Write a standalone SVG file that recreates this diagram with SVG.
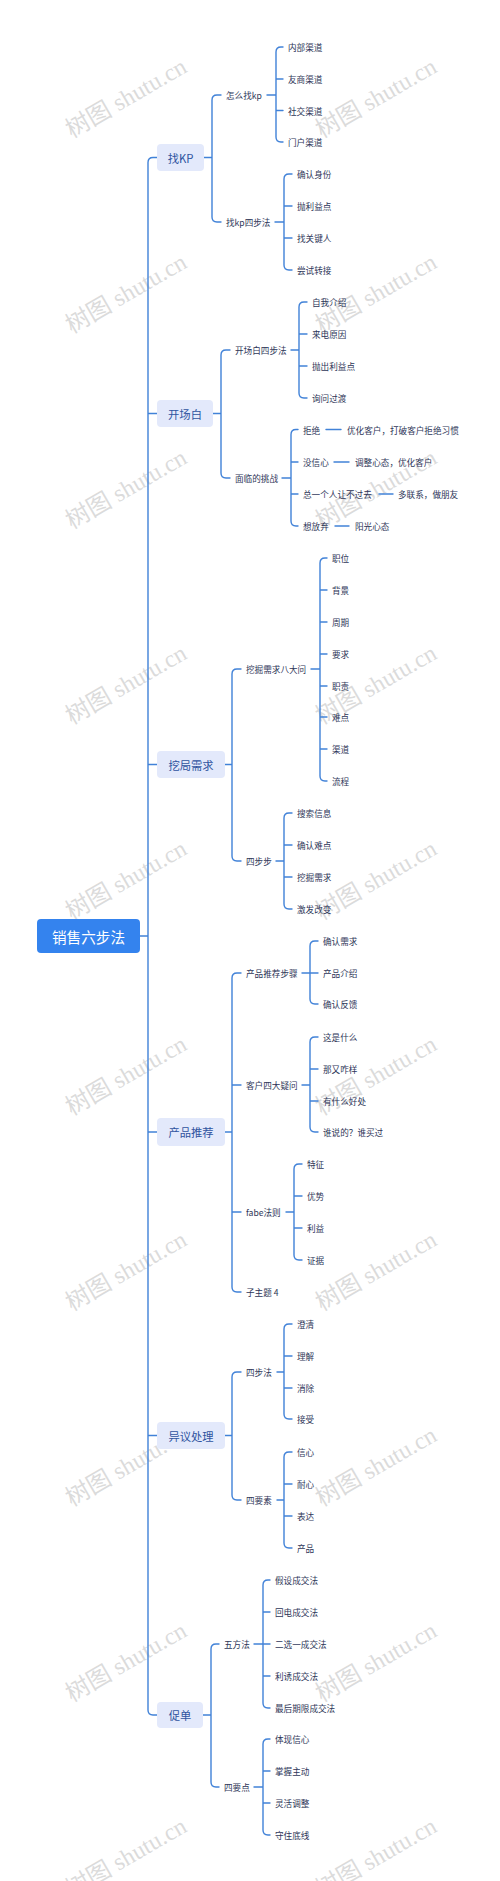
<svg xmlns="http://www.w3.org/2000/svg" width="500" height="1881" viewBox="0 0 500 1881">
<style>
.wm{font-family:"Liberation Serif","Noto Sans CJK SC",serif;font-size:24px;fill:#cfcfcf;fill-opacity:0.75;text-anchor:middle}
.ln{fill:none;stroke:#4182d8;stroke-width:1.4;stroke-linecap:round}
.t{font-family:"Noto Sans CJK SC","Noto Sans",sans-serif;font-size:8.6px;fill:#2e3658;dominant-baseline:central}
.b1{fill:#e3e9fb}
.t1{font-family:"Noto Sans CJK SC","Noto Sans",sans-serif;font-size:11.3px;fill:#2f549f;dominant-baseline:central;text-anchor:middle}
.t0{font-family:"Noto Sans CJK SC","Noto Sans",sans-serif;font-size:14.6px;fill:#ffffff;dominant-baseline:central;text-anchor:middle}
</style>
<rect width="500" height="1881" fill="#ffffff"/>
<g id="watermarks">
<text class="wm" transform="rotate(-30 126 98)" x="126" y="106">树图 shutu.cn</text>
<text class="wm" transform="rotate(-30 376 98)" x="376" y="106">树图 shutu.cn</text>
<text class="wm" transform="rotate(-30 126 293.5)" x="126" y="301.5">树图 shutu.cn</text>
<text class="wm" transform="rotate(-30 376 293.5)" x="376" y="301.5">树图 shutu.cn</text>
<text class="wm" transform="rotate(-30 126 489)" x="126" y="497">树图 shutu.cn</text>
<text class="wm" transform="rotate(-30 376 489)" x="376" y="497">树图 shutu.cn</text>
<text class="wm" transform="rotate(-30 126 684.5)" x="126" y="692.5">树图 shutu.cn</text>
<text class="wm" transform="rotate(-30 376 684.5)" x="376" y="692.5">树图 shutu.cn</text>
<text class="wm" transform="rotate(-30 126 880)" x="126" y="888">树图 shutu.cn</text>
<text class="wm" transform="rotate(-30 376 880)" x="376" y="888">树图 shutu.cn</text>
<text class="wm" transform="rotate(-30 126 1075.5)" x="126" y="1083.5">树图 shutu.cn</text>
<text class="wm" transform="rotate(-30 376 1075.5)" x="376" y="1083.5">树图 shutu.cn</text>
<text class="wm" transform="rotate(-30 126 1271)" x="126" y="1279">树图 shutu.cn</text>
<text class="wm" transform="rotate(-30 376 1271)" x="376" y="1279">树图 shutu.cn</text>
<text class="wm" transform="rotate(-30 126 1466.5)" x="126" y="1474.5">树图 shutu.cn</text>
<text class="wm" transform="rotate(-30 376 1466.5)" x="376" y="1474.5">树图 shutu.cn</text>
<text class="wm" transform="rotate(-30 126 1662)" x="126" y="1670">树图 shutu.cn</text>
<text class="wm" transform="rotate(-30 376 1662)" x="376" y="1670">树图 shutu.cn</text>
<text class="wm" transform="rotate(-30 126 1857.5)" x="126" y="1865.5">树图 shutu.cn</text>
<text class="wm" transform="rotate(-30 376 1857.5)" x="376" y="1865.5">树图 shutu.cn</text>
</g>
<g id="connectors">
<!-- trunk -->
<path class="ln" d="M140 936 H148 M157 157.5 H153 Q148 157.5 148 162.5 V1710 Q148 1715 153 1715 H157 M148 413.5 H157 M148 764.5 H157 M148 1132 H157 M148 1435.5 H157"/>
<!-- 找KP -->
<path class="ln" d="M204 157.5 H212 M221 95 H217 Q212 95 212 100 V217 Q212 222 217 222 H221"/>
<path class="ln" d="M267 95 H276 M283 47 H281 Q276 47 276 52 V137 Q276 142 281 142 H283 M276 79 H283 M276 110.5 H283"/>
<path class="ln" d="M275 222 H284 M292 174 H289 Q284 174 284 179 V265 Q284 270 289 270 H292 M284 206 H292 M284 238 H292"/>
<!-- 开场白 -->
<path class="ln" d="M213 413.5 H221 M230 350 H226 Q221 350 221 355 V473 Q221 478 226 478 H230"/>
<path class="ln" d="M291 350 H299 M307 302 H304 Q299 302 299 307 V393 Q299 398 304 398 H307 M299 334 H307 M299 366 H307"/>
<path class="ln" d="M282 478 H291 M298 429.5 H296 Q291 429.5 291 434.5 V521 Q291 526 296 526 H298 M291 462 H298 M291 494 H298"/>
<path class="ln" d="M326 429.5 H341 M334 462 H349 M379 494 H393 M335 526 H349"/>
<!-- 挖局需求 -->
<path class="ln" d="M225 764.5 H232 M241 669 H237 Q232 669 232 674 V856 Q232 861 237 861 H241"/>
<path class="ln" d="M311 669 H320 M327 558 H325 Q320 558 320 563 V776 Q320 781 325 781 H327 M320 590 H327 M320 622 H327 M320 654 H327 M320 686 H327 M320 717 H327 M320 749 H327"/>
<path class="ln" d="M276 861 H284 M292 813 H289 Q284 813 284 818 V904 Q284 909 289 909 H292 M284 845 H292 M284 877 H292"/>
<!-- 产品推荐 -->
<path class="ln" d="M225 1132 H232 M241 973 H237 Q232 973 232 978 V1287 Q232 1292 237 1292 H241 M232 1085 H241 M232 1212 H241"/>
<path class="ln" d="M302 973 H318 M318 941 H315 Q310 941 310 946 V999 Q310 1004 315 1004 H318"/>
<path class="ln" d="M302 1085 H310 M318 1037 H315 Q310 1037 310 1042 V1127 Q310 1132 315 1132 H318 M310 1069 H318 M310 1101 H318"/>
<path class="ln" d="M286 1212 H294 M302 1164 H299 Q294 1164 294 1169 V1255 Q294 1260 299 1260 H302 M294 1196 H302 M294 1228 H302"/>
<!-- 异议处理 -->
<path class="ln" d="M225 1435.5 H232 M241 1372 H237 Q232 1372 232 1377 V1495 Q232 1500 237 1500 H241"/>
<path class="ln" d="M277 1372 H284 M292 1324 H289 Q284 1324 284 1329 V1414 Q284 1419 289 1419 H292 M284 1356 H292 M284 1388 H292"/>
<path class="ln" d="M277 1500 H284 M292 1452 H289 Q284 1452 284 1457 V1543 Q284 1548 289 1548 H292 M284 1484 H292 M284 1516 H292"/>
<!-- 促单 -->
<path class="ln" d="M203 1715 H211 M219 1644 H216 Q211 1644 211 1649 V1782 Q211 1787 216 1787 H219"/>
<path class="ln" d="M254 1644 H270 M270 1580 H268 Q263 1580 263 1585 V1703 Q263 1708 268 1708 H270 M263 1612 H270 M263 1676 H270"/>
<path class="ln" d="M254 1787 H263 M270 1739 H268 Q263 1739 263 1744 V1830 Q263 1835 268 1835 H270 M263 1771 H270 M263 1803 H270"/>
</g>
<g id="root">
<rect x="37" y="919" width="103" height="34" rx="4" fill="#3483ee"/>
<text class="t0" x="88.5" y="936">销售六步法</text>
</g>
<g id="n-zhaokp">
<rect class="b1" x="157" y="144" width="47" height="27" rx="4"/>
<text class="t1" x="180.5" y="157.5">找KP</text>
<text class="t" x="226" y="95">怎么找kp</text>
<text class="t" x="288" y="47">内部渠道</text>
<text class="t" x="288" y="79">友商渠道</text>
<text class="t" x="288" y="110.5">社交渠道</text>
<text class="t" x="288" y="142">门户渠道</text>
<text class="t" x="226" y="222">找kp四步法</text>
<text class="t" x="297" y="174">确认身份</text>
<text class="t" x="297" y="206">抛利益点</text>
<text class="t" x="297" y="238">找关键人</text>
<text class="t" x="297" y="270">尝试转接</text>
</g>
<g id="n-kaichangbai">
<rect class="b1" x="157" y="400" width="56" height="27" rx="4"/>
<text class="t1" x="185" y="413.5">开场白</text>
<text class="t" x="235" y="350">开场白四步法</text>
<text class="t" x="312" y="302">自我介绍</text>
<text class="t" x="312" y="334">来电原因</text>
<text class="t" x="312" y="366">抛出利益点</text>
<text class="t" x="312" y="398">询问过渡</text>
<text class="t" x="235" y="478">面临的挑战</text>
<text class="t" x="303" y="429.5">拒绝</text>
<text class="t" x="347" y="429.5">优化客户，打破客户拒绝习惯</text>
<text class="t" x="303" y="462">没信心</text>
<text class="t" x="355" y="462">调整心态，优化客户</text>
<text class="t" x="303" y="494">总一个人让不过去</text>
<text class="t" x="398" y="494">多联系，做朋友</text>
<text class="t" x="303" y="526">想放弃</text>
<text class="t" x="355" y="526">阳光心态</text>
</g>
<g id="n-wajuxuqiu">
<rect class="b1" x="157" y="751" width="68" height="27" rx="4"/>
<text class="t1" x="191" y="764.5">挖局需求</text>
<text class="t" x="246" y="669">挖掘需求八大问</text>
<text class="t" x="332" y="558">职位</text>
<text class="t" x="332" y="590">背景</text>
<text class="t" x="332" y="622">周期</text>
<text class="t" x="332" y="654">要求</text>
<text class="t" x="332" y="686">职责</text>
<text class="t" x="332" y="717">难点</text>
<text class="t" x="332" y="749">渠道</text>
<text class="t" x="332" y="781">流程</text>
<text class="t" x="246" y="861">四步步</text>
<text class="t" x="297" y="813">搜索信息</text>
<text class="t" x="297" y="845">确认难点</text>
<text class="t" x="297" y="877">挖掘需求</text>
<text class="t" x="297" y="909">激发改变</text>
</g>
<g id="n-chanpintuijian">
<rect class="b1" x="157" y="1118" width="68" height="28" rx="4"/>
<text class="t1" x="191" y="1132">产品推荐</text>
<text class="t" x="246" y="973">产品推荐步骤</text>
<text class="t" x="323" y="941">确认需求</text>
<text class="t" x="323" y="973">产品介绍</text>
<text class="t" x="323" y="1004">确认反馈</text>
<text class="t" x="246" y="1085">客户四大疑问</text>
<text class="t" x="323" y="1037">这是什么</text>
<text class="t" x="323" y="1069">那又咋样</text>
<text class="t" x="323" y="1101">有什么好处</text>
<text class="t" x="323" y="1132">谁说的？谁买过</text>
<text class="t" x="246" y="1212">fabe法则</text>
<text class="t" x="307" y="1164">特征</text>
<text class="t" x="307" y="1196">优势</text>
<text class="t" x="307" y="1228">利益</text>
<text class="t" x="307" y="1260">证据</text>
<text class="t" x="246" y="1292">子主题 4</text>
</g>
<g id="n-yiyichuli">
<rect class="b1" x="157" y="1422" width="68" height="27" rx="4"/>
<text class="t1" x="191" y="1435.5">异议处理</text>
<text class="t" x="246" y="1372">四步法</text>
<text class="t" x="297" y="1324">澄清</text>
<text class="t" x="297" y="1356">理解</text>
<text class="t" x="297" y="1388">消除</text>
<text class="t" x="297" y="1419">接受</text>
<text class="t" x="246" y="1500">四要素</text>
<text class="t" x="297" y="1452">信心</text>
<text class="t" x="297" y="1484">耐心</text>
<text class="t" x="297" y="1516">表达</text>
<text class="t" x="297" y="1548">产品</text>
</g>
<g id="n-cudan">
<rect class="b1" x="157" y="1702" width="46" height="26" rx="4"/>
<text class="t1" x="180" y="1715">促单</text>
<text class="t" x="224" y="1644">五方法</text>
<text class="t" x="275" y="1580">假设成交法</text>
<text class="t" x="275" y="1612">回电成交法</text>
<text class="t" x="275" y="1644">二选一成交法</text>
<text class="t" x="275" y="1676">利诱成交法</text>
<text class="t" x="275" y="1708">最后期限成交法</text>
<text class="t" x="224" y="1787">四要点</text>
<text class="t" x="275" y="1739">体现信心</text>
<text class="t" x="275" y="1771">掌握主动</text>
<text class="t" x="275" y="1803">灵活调整</text>
<text class="t" x="275" y="1835">守住底线</text>
</g>
</svg>
